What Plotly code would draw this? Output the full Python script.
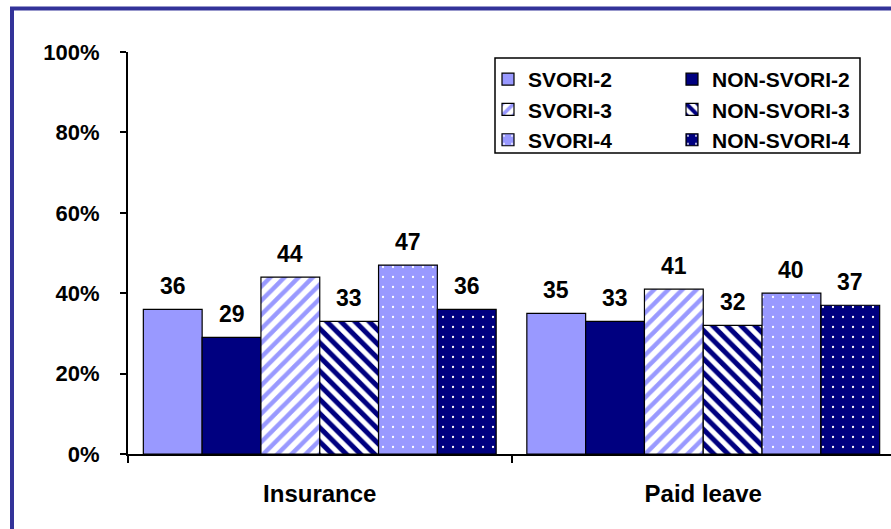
import plotly.graph_objects as go

# Survey results: share of respondents (%) by benefit type and program group
categories = ["Insurance", "Paid leave"]
series_names = ["SVORI-2", "NON-SVORI-2", "SVORI-3", "NON-SVORI-3", "SVORI-4", "NON-SVORI-4"]
svori_2 = [36, 35]
non_svori_2 = [29, 33]
svori_3 = [44, 41]
non_svori_3 = [33, 32]
svori_4 = [47, 40]
non_svori_4 = [36, 37]
y_ticks = [0, 20, 40, 60, 80, 100]
y_tick_labels = ["0%", "20%", "40%", "60%", "80%", "100%"]

series_values = [svori_2, non_svori_2, svori_3, non_svori_3, svori_4, non_svori_4]

LIGHT = "#9999FF"
NAVY = "#000080"
FONT = "Liberation Sans, Arial, Helvetica, sans-serif"

styles = [
    dict(color=LIGHT),
    dict(color=NAVY),
    dict(color="white", pattern=dict(shape="/", bgcolor="white", fgcolor=LIGHT,
                                     size=10, solidity=0.45, fillmode="replace")),
    dict(color="white", pattern=dict(shape="\\", bgcolor="white", fgcolor=NAVY,
                                     size=10, solidity=0.5, fillmode="replace")),
    dict(color=LIGHT, pattern=dict(shape=".", bgcolor=LIGHT, fgcolor="white",
                                   size=10, solidity=0.04, fillmode="replace")),
    dict(color=NAVY, pattern=dict(shape=".", bgcolor=NAVY, fgcolor="white",
                                  size=10, solidity=0.04, fillmode="replace")),
]

# plot-area geometry in pixels
FIG_W, FIG_H = 891, 529
M_L, M_T, M_B = 128, 52, 75
PLOT_W = FIG_W - M_L
PLOT_H = FIG_H - M_T - M_B
BARGAP = 0.08
N = len(series_names)


def px_x(px):
    return (px - M_L) / PLOT_W


def px_y(py):
    return (FIG_H - M_B - py) / PLOT_H


fig = go.Figure()
for i, (name, vals, st) in enumerate(zip(series_names, series_values, styles)):
    fig.add_trace(go.Bar(
        x=categories, y=vals, name=name,
        marker=dict(line=dict(color="black", width=1.2), **st),
        legend="legend" if i % 2 == 0 else "legend2",
        hoverinfo="skip",
    ))

# value labels above each bar
bar_w = (1 - BARGAP) / N
annotations = []
for i, vals in enumerate(series_values):
    for c, v in enumerate(vals):
        annotations.append(dict(
            x=c - (1 - BARGAP) / 2 + (i + 0.5) * bar_w, y=v,
            xref="x", yref="y", text=str(v), showarrow=False,
            yanchor="bottom", yshift=8,
            font=dict(family=FONT, size=23, color="black", weight="bold"),
        ))

shapes = [
    # outer frame (left and top edges)
    dict(type="line", xref="paper", yref="paper",
         x0=px_x(12), x1=px_x(12), y0=px_y(FIG_H + 20), y1=px_y(8.5),
         line=dict(color="#333399", width=4)),
    dict(type="line", xref="paper", yref="paper",
         x0=px_x(10), x1=px_x(FIG_W + 20), y0=px_y(8.5), y1=px_y(8.5),
         line=dict(color="#333399", width=4)),
    # legend box
    dict(type="rect", xref="paper", yref="paper",
         x0=px_x(495), x1=px_x(860), y0=px_y(153), y1=px_y(58),
         line=dict(color="black", width=1.5), fillcolor="rgba(0,0,0,0)"),
]

legend_font = dict(family=FONT, size=21, color="black", weight="bold")

fig.update_layout(
    width=FIG_W, height=FIG_H,
    margin=dict(l=M_L, r=0, t=M_T, b=M_B, pad=0),
    paper_bgcolor="white", plot_bgcolor="white",
    barmode="group", bargap=BARGAP, bargroupgap=0,
    showlegend=True,
    legend=dict(x=px_x(488), y=px_y(59), xanchor="left", yanchor="top",
                orientation="v", font=legend_font, bgcolor="rgba(0,0,0,0)",
                borderwidth=0, traceorder="normal"),
    legend2=dict(x=px_x(672), y=px_y(59), xanchor="left", yanchor="top",
                 orientation="v", font=legend_font, bgcolor="rgba(0,0,0,0)",
                 borderwidth=0, traceorder="normal"),
    xaxis=dict(
        type="category", range=[-0.5, -0.5 + PLOT_W / 383.5],
        showline=True, linecolor="black", linewidth=2,
        ticks="outside", tickson="boundaries", ticklen=7, tickwidth=1.5,
        tickcolor="black", ticklabelstandoff=17,
        tickfont=dict(family=FONT, size=24, color="black", weight="bold"),
        showgrid=False, zeroline=False, fixedrange=True,
    ),
    yaxis=dict(
        range=[0, 100], tickvals=y_ticks, ticktext=y_tick_labels,
        showline=True, linecolor="black", linewidth=2,
        ticks="outside", ticklen=6, tickwidth=1.5, tickcolor="black",
        ticklabelstandoff=16,
        tickfont=dict(family=FONT, size=22, color="black", weight="bold"),
        showgrid=False, zeroline=False, fixedrange=True,
    ),
    annotations=annotations,
    shapes=shapes,
)

fig.write_html("out.html", config={"displayModeBar": False})
